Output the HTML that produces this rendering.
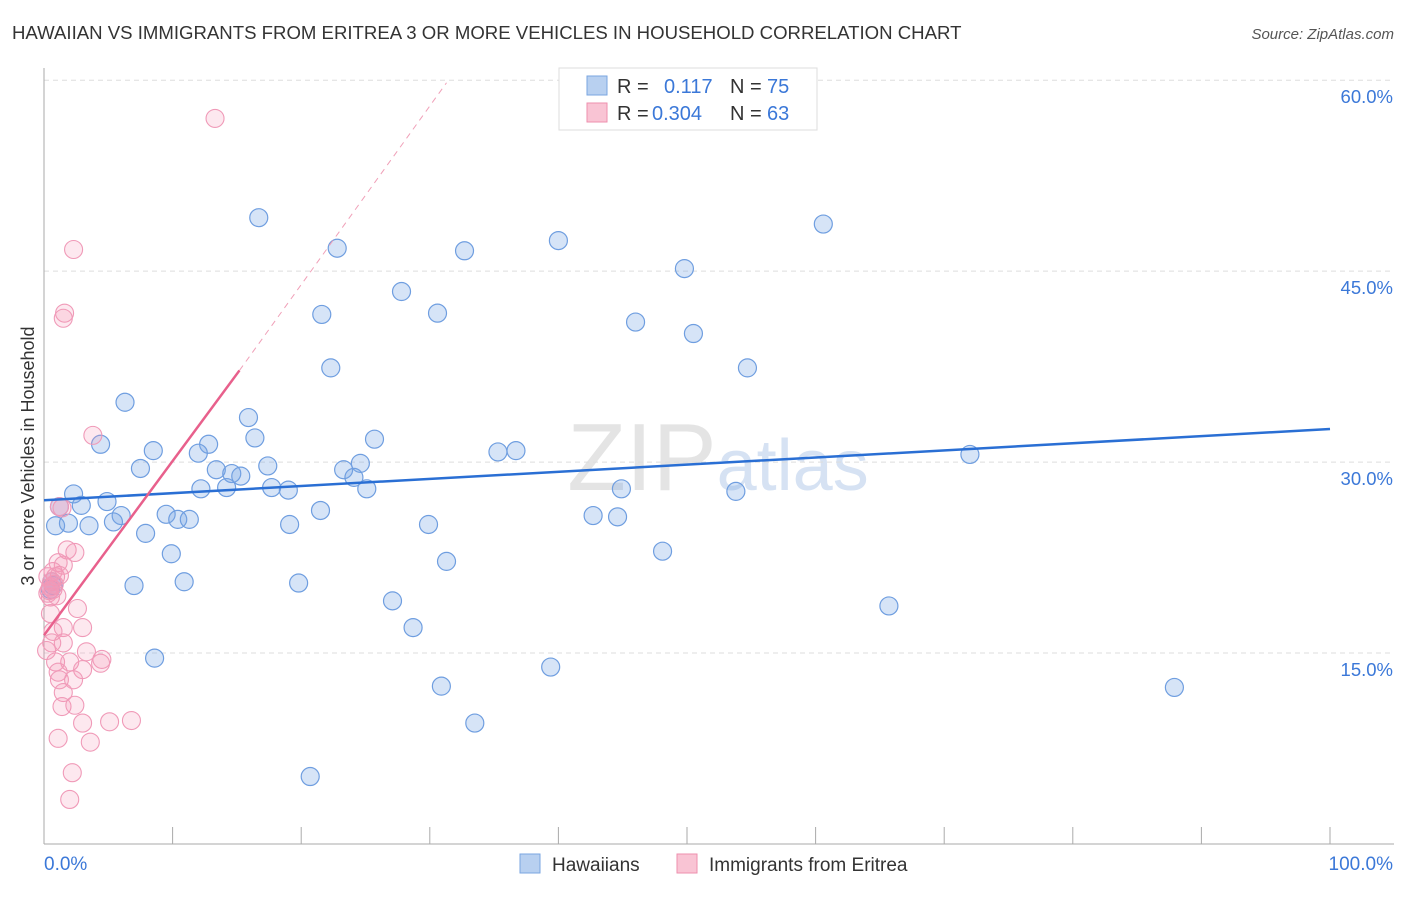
<!DOCTYPE html>
<html><head><meta charset="utf-8"><style>
body{margin:0;background:#fff;font-family:"Liberation Sans",sans-serif}
svg text{font-family:"Liberation Sans",sans-serif}
</style></head><body>
<svg id="c" width="1406" height="892">
<text x="12" y="39" font-size="18.6" fill="#333">HAWAIIAN VS IMMIGRANTS FROM ERITREA 3 OR MORE VEHICLES IN HOUSEHOLD CORRELATION CHART</text>
<text x="1394" y="39" font-size="15" fill="#555" font-style="italic" text-anchor="end">Source: ZipAtlas.com</text>
<text x="718" y="490" font-size="96" fill="#e4e4e4" font-family="Liberation Serif" text-anchor="middle">ZIP<tspan fill="#d6e2f3" font-family="Liberation Sans" font-size="72">atlas</tspan></text>
<g id="grid"></g><g id="axes"></g><g id="pts"></g><g id="trend"></g>
<text transform="translate(34,456) rotate(-90)" font-size="18" fill="#333" text-anchor="middle">3 or more Vehicles in Household</text>
<g>
<rect x="559" y="68" width="258" height="62" fill="#fff" stroke="#ddd"/>
<rect x="587" y="76" width="20" height="19" fill="#b8d0f0" stroke="#7aa6e0"/>
<rect x="587" y="103" width="20" height="19" fill="#f9c4d4" stroke="#ee8fae"/>
<text x="617" y="93" font-size="20" fill="#333">R = </text><text x="664" y="93" font-size="20" fill="#3b78d8">0.117</text>
<text x="730" y="93" font-size="20" fill="#333">N = </text><text x="767" y="93" font-size="20" fill="#3b78d8">75</text>
<text x="617" y="120" font-size="20" fill="#333">R = </text><text x="652" y="120" font-size="20" fill="#3b78d8">0.304</text>
<text x="730" y="120" font-size="20" fill="#333">N = </text><text x="767" y="120" font-size="20" fill="#3b78d8">63</text>
</g>
<g>
<rect x="520" y="854" width="20" height="19" fill="#b8d0f0" stroke="#7aa6e0"/>
<text x="552" y="871" font-size="19" fill="#333">Hawaiians</text>
<rect x="677" y="854" width="20" height="19" fill="#f9c4d4" stroke="#ee8fae"/>
<text x="709" y="871" font-size="19" fill="#333">Immigrants from Eritrea</text>
</g>
</svg>
<script>
const blueX=[16.7,22.8,32.7,40.0,60.6,49.8,27.8,21.6,30.6,46.0,50.5,22.3,54.7,6.3,15.9,16.4,25.7,4.4,12.8,8.5,35.3,36.7,72.0,12.0,7.5,17.4,24.6,23.3,13.4,14.6,15.3,14.2,12.2,17.7,19.0,24.1,25.1,44.9,53.8,2.3,4.9,2.9,1.2,6.0,9.5,21.5,10.4,11.3,42.7,44.6,0.9,1.9,3.5,5.4,19.1,29.9,7.9,48.1,9.9,31.3,10.9,7.0,19.8,65.7,27.1,28.7,8.6,39.4,30.9,87.9,33.5,20.7,0.5,0.6,0.7];
const blueY=[49.2,46.8,46.6,47.4,48.7,45.2,43.4,41.6,41.7,41.0,40.1,37.4,37.4,34.7,33.5,31.9,31.8,31.4,31.4,30.9,30.8,30.9,30.6,30.7,29.5,29.7,29.9,29.4,29.4,29.1,28.9,28.0,27.9,28.0,27.8,28.8,27.9,27.9,27.7,27.5,26.9,26.6,26.5,25.8,25.9,26.2,25.5,25.5,25.8,25.7,25.0,25.2,25.0,25.3,25.1,25.1,24.4,23.0,22.8,22.2,20.6,20.3,20.5,18.7,19.1,17.0,14.6,13.9,12.4,12.3,9.5,5.3,20.0,20.6,20.3];
const pinkX=[13.3,2.3,1.6,1.5,3.8,1.2,1.4,1.8,2.4,1.1,1.5,0.7,0.9,0.7,0.5,2.6,0.5,3.0,1.5,0.7,1.5,0.6,3.3,4.5,4.4,2.0,0.9,3.0,1.1,1.2,2.3,1.5,1.4,2.4,3.0,5.1,6.8,1.1,3.6,2.2,2.0,0.5,0.3,1.2,0.6,0.4,0.8,0.3,1.0,0.2];
const pinkY=[57.0,46.7,41.7,41.3,32.1,26.5,26.4,23.1,22.9,22.1,21.9,21.4,21.0,20.0,19.4,18.5,18.1,17.0,17.0,16.7,15.8,15.8,15.1,14.5,14.2,14.3,14.3,13.7,13.5,12.9,12.9,11.9,10.8,10.9,9.5,9.6,9.7,8.3,8.0,5.6,3.5,20.2,19.7,21.1,20.6,19.9,20.4,21.0,19.5,15.2];
const yTicks=[15,30,45,60];
const yTickLabels=["15.0%","30.0%","45.0%","60.0%"];
const xTicks=[0,10,20,30,40,50,60,70,80,90,100];
const blueTrend=[[0,27.0],[100,32.6]];
const pinkTrend=[[0,16.4],[15.2,37.2]];
const pinkDash=[[15.2,37.2],[31.3,59.8]];
const X=v=>44+v*12.86, Y=v=>844-v*12.73;
const NS="http://www.w3.org/2000/svg";
function mk(t,a,p){const e=document.createElementNS(NS,t);for(const k in a)e.setAttribute(k,a[k]);document.getElementById(p).appendChild(e);return e;}
yTicks.forEach((t,i)=>{
 const l=mk('line',{x1:44,x2:1394,y1:Y(t),y2:Y(t),stroke:'#ddd','stroke-dasharray':'5,4'},'grid');
 
 
 const tx=mk('text',{x:1393,y:Y(t)+23,'font-size':18.5,fill:'#3b78d8','text-anchor':'end'},'grid');
 tx.textContent=yTickLabels[i];
 
 
});
mk('line',{x1:44,x2:44,y1:68,y2:844,stroke:'#aaa'},'axes');
mk('line',{x1:44,x2:1394,y1:844,y2:844,stroke:'#aaa'},'axes');
xTicks.forEach(t=>{const l=mk('line',{x1:X(t),x2:X(t),y1:827,y2:844,stroke:'#aaa'},'axes');
 
 });
let a=mk('text',{x:44,y:870,'font-size':19,fill:'#3b78d8'},'axes');a.textContent='0.0%';

a=mk('text',{x:1393,y:870,'font-size':19,fill:'#3b78d8','text-anchor':'end'},'axes');a.textContent='100.0%';

blueX.forEach((x,i)=>{const c=mk('circle',{cx:X(x),cy:Y(blueY[i]),r:9,fill:'rgba(120,165,230,0.3)',stroke:'#6f9ee0','stroke-width':1.2},'pts');
 
 });
pinkX.forEach((x,i)=>{const c=mk('circle',{cx:X(x),cy:Y(pinkY[i]),r:9,fill:'rgba(245,150,180,0.22)',stroke:'#f09ab8','stroke-width':1.1},'pts');
 
 });
let t=mk('line',{x1:X(blueTrend[0][0]),y1:Y(blueTrend[0][1]),x2:X(blueTrend[1][0]),y2:Y(blueTrend[1][1]),stroke:'#2a6fd4','stroke-width':2.5},'trend');

t=mk('line',{x1:X(pinkTrend[0][0]),y1:Y(pinkTrend[0][1]),x2:X(pinkTrend[1][0]),y2:Y(pinkTrend[1][1]),stroke:'#e8608c','stroke-width':2.5},'trend');

t=mk('line',{x1:X(pinkDash[0][0]),y1:Y(pinkDash[0][1]),x2:X(pinkDash[1][0]),y2:Y(pinkDash[1][1]),stroke:'#f0a0b8','stroke-width':1,'stroke-dasharray':'6,5'},'trend');

</script>
</body></html>
